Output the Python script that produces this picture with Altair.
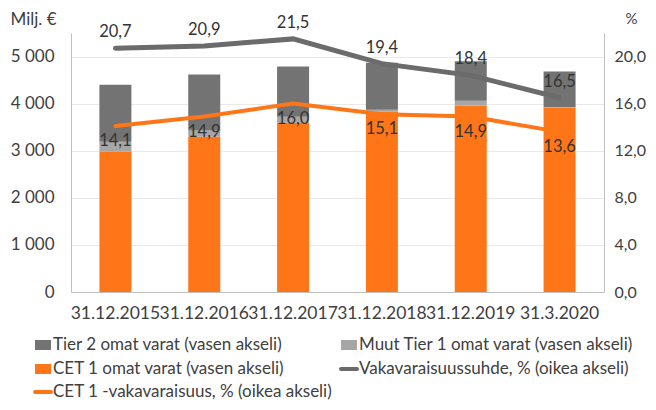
import altair as alt
import pandas as pd

# ---- data ----
dates = ["31.12.2015", "31.12.2016", "31.12.2017", "31.12.2018", "31.12.2019", "31.3.2020"]
cet1_funds = [2980, 3300, 3600, 3830, 3960, 3910]      # CET 1 omat varat
other_t1 = [210, 130, 120, 40, 100, 20]                 # Muut Tier 1 omat varat
tier2 = [1210, 1190, 1070, 1000, 840, 750]              # Tier 2 omat varat
total_ratio = [20.7, 20.9, 21.5, 19.4, 18.4, 16.5]      # Vakavaraisuussuhde, %
cet1_ratio = [14.1, 14.9, 16.0, 15.1, 14.9, 13.6]       # CET 1 -vakavaraisuus, %

bar_names = ["CET 1 omat varat (vasen akseli)",
             "Muut Tier 1 omat varat (vasen akseli)",
             "Tier 2 omat varat (vasen akseli)"]
bar_colors = ["#FF7618", "#A6A6A6", "#737373"]
line_names = ["Vakavaraisuussuhde, % (oikea akseli)",
              "CET 1 -vakavaraisuus, % (oikea akseli)"]
line_colors = ["#6B6B6B", "#FF7618"]

legend_labels = ["Tier 2 omat varat (vasen akseli)",
                 "Muut Tier 1 omat varat (vasen akseli)",
                 "CET 1 omat varat (vasen akseli)",
                 "Vakavaraisuussuhde, % (oikea akseli)",
                 "CET 1 -vakavaraisuus, % (oikea akseli)"]
legend_colors = ["#737373", "#A6A6A6", "#FF7618", "#6B6B6B", "#FF7618"]
legend_kinds = ["rect", "rect", "rect", "line", "line"]

FONT = "Lato"
TXT = "#404040"

# ---- tables ----
bar_rows = []
for rank, (name, vals) in enumerate(zip(bar_names, [cet1_funds, other_t1, tier2])):
    for d, v in zip(dates, vals):
        bar_rows.append({"date": d, "series": name, "value": v, "rank": rank})
bars_df = pd.DataFrame(bar_rows)

line_rows = []
for name, vals in zip(line_names, [total_ratio, cet1_ratio]):
    for d, v in zip(dates, vals):
        line_rows.append({"date": d, "series": name, "pct": v})
lines_df = pd.DataFrame(line_rows)

x_axis = alt.Axis(labelAngle=0, ticks=False, grid=False, domainColor="#BFBFBF",
                  labelFontSize=17.5, labelColor=TXT, labelFont=FONT, labelPadding=12,
                  labelOverlap=False, labelBound=False, labelLimit=0, title=None)
x_enc = alt.X("date:N", sort=dates, axis=x_axis, scale=alt.Scale(paddingInner=0.64, paddingOuter=0.32))

left_axis = alt.Axis(values=[0, 1000, 2000, 3000, 4000, 5000],
                     labelExpr="replace(format(datum.value, ','), ',', ' ')",
                     ticks=False, domainColor="#BFBFBF", gridColor="#E9E9E9",
                     labelFontSize=17, labelColor=TXT, labelFont=FONT, labelPadding=17,
                     title="Milj. €", titleAngle=0, titleAlign="left", titleBaseline="top",
                     titleX=-61, titleY=-22, titleFontSize=17, titleFontWeight="normal",
                     titleColor=TXT, titleFont=FONT)

right_axis = alt.Axis(values=[0, 4, 8, 12, 16, 20], orient="right",
                      labelExpr="replace(format(datum.value, '.1f'), '.', ',')",
                      ticks=False, grid=False, domainColor="#BFBFBF",
                      labelFontSize=16, labelColor=TXT, labelFont=FONT, labelPadding=10,
                      title="%", titleAngle=0, titleAlign="center", titleBaseline="top",
                      titleX=27, titleY=-22, titleFontSize=15, titleFontWeight="normal",
                      titleColor=TXT, titleFont=FONT)

bars = alt.Chart(bars_df).mark_bar(size=32).encode(
    x=x_enc,
    y=alt.Y("value:Q", stack="zero", axis=left_axis,
            scale=alt.Scale(domain=[0, 5500], nice=False)),
    color=alt.Color("series:N", scale=alt.Scale(domain=bar_names, range=bar_colors), legend=None),
    order=alt.Order("rank:Q", sort="ascending"),
)

y_right = alt.Y("pct:Q", axis=right_axis, scale=alt.Scale(domain=[0, 22], nice=False))

lines = alt.Chart(lines_df).mark_line(strokeCap="round").encode(
    x=x_enc,
    y=y_right,
    color=alt.Color("series:N", scale=alt.Scale(domain=line_names, range=line_colors), legend=None),
    strokeWidth=alt.StrokeWidth("series:N", scale=alt.Scale(domain=line_names, range=[5, 4]), legend=None),
)

label_base = alt.Chart(lines_df).transform_calculate(
    label="replace(format(datum.pct, '.1f'), '.', ',')"
)
labels_top = label_base.transform_filter(alt.datum.series == line_names[0]).mark_text(
    dy=-16, fontSize=16.5, font=FONT, color="#333333"
).encode(x=x_enc, y=y_right, text="label:N")
labels_bot = label_base.transform_filter(alt.datum.series == line_names[1]).mark_text(
    dy=15, fontSize=16.5, font=FONT, color="#333333"
).encode(x=x_enc, y=y_right, text="label:N")

right_layer = alt.layer(lines, labels_top, labels_bot)

# ---- manual legend (two columns, row-major) ----
legend_layers = []
col_sym = [-28, 278]
col_txt = [-18, 288]
row_y = [312, 336, 359]
for i, (lab, colr, kind) in enumerate(zip(legend_labels, legend_colors, legend_kinds)):
    c, r = i % 2, i // 2
    sx, ty = col_sym[c], row_y[r]
    base = alt.Chart(pd.DataFrame({"label": [lab]}))
    if kind == "rect":
        sym = base.mark_rect(color=colr).encode(
            x=alt.value(sx - 8), x2=alt.value(sx + 8),
            y=alt.value(ty - 5), y2=alt.value(ty + 5))
    else:
        sym = base.mark_rule(color=colr, strokeWidth=4, strokeCap="round").encode(
            x=alt.value(sx - 8), x2=alt.value(sx + 8), y=alt.value(ty))
    txt = base.mark_text(align="left", baseline="middle", fontSize=17, font=FONT, color=TXT).encode(
        x=alt.value(col_txt[c]), y=alt.value(ty), text="label:N")
    legend_layers += [sym, txt]

chart = alt.layer(bars, right_layer, *legend_layers).resolve_scale(
    y="independent", color="independent", strokeWidth="independent"
).properties(
    width=533, height=259,
    autosize=alt.AutoSizeParams(type="none"),
    padding={"left": 63, "top": 25, "right": 44, "bottom": 110},
).configure_view(stroke=None)

chart.save("out.html", embed_options={"renderer": "svg", "actions": False})
